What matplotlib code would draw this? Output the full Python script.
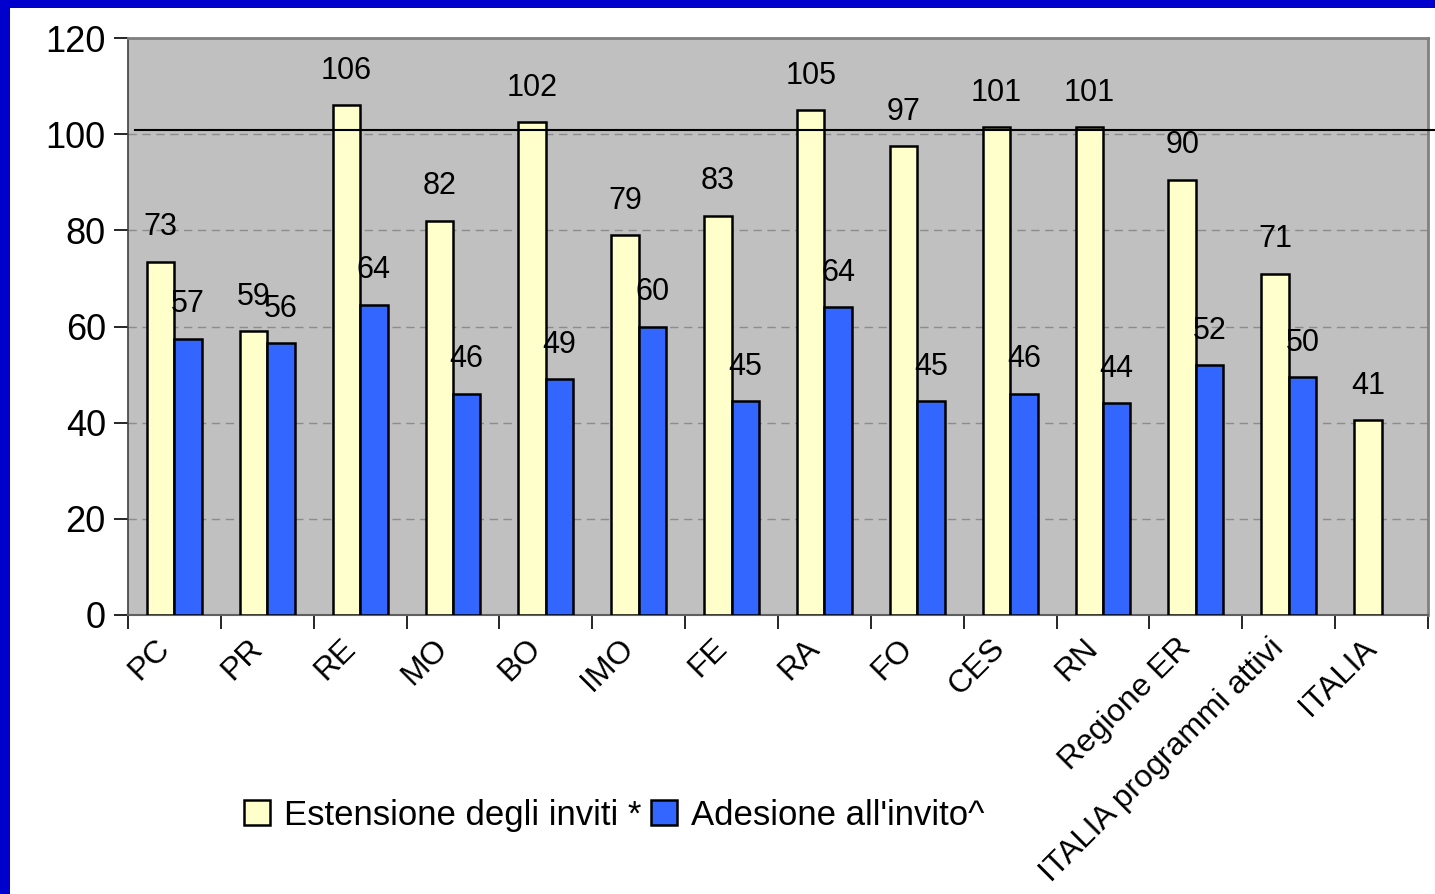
import numpy as np
import matplotlib
matplotlib.use("Agg")
import matplotlib.pyplot as plt
import matplotlib.transforms as mtransforms
from matplotlib.patches import Rectangle

plt.rcParams['font.family'] = ['Liberation Sans', 'DejaVu Sans']

# Data
categories = ["PC", "PR", "RE", "MO", "BO", "IMO", "FE", "RA", "FO", "CES", "RN",
              "Regione ER", "ITALIA programmi attivi", "ITALIA"]
estensione = [73.5, 59, 106, 82, 102.5, 79, 83, 105, 97.5, 101.5, 101.5, 90.5, 71, 40.5]
estensione_labels = ["73", "59", "106", "82", "102", "79", "83", "105", "97", "101", "101",
                     "90", "71", "41"]
adesione = [57.5, 56.5, 64.5, 46, 49, 60, 44.5, 64, 44.5, 46, 44, 52, 49.5, None]
adesione_labels = ["57", "56", "64", "46", "49", "60", "45", "64", "45", "46", "44",
                   "52", "50", None]
reference_level = 100.8

fig = plt.figure(figsize=(14.35, 8.94), dpi=100)
fig.patch.set_facecolor("white")

# blue frame on the left and top edges
fig.patches.append(Rectangle((0, 0), 10 / 1435, 1, transform=fig.transFigure,
                             facecolor="#0000CC", edgecolor="none", zorder=0))
fig.patches.append(Rectangle((0, 1 - 8 / 894), 1, 8 / 894, transform=fig.transFigure,
                             facecolor="#0000CC", edgecolor="none", zorder=0))

ax = fig.add_axes([128 / 1435, 1 - 615 / 894, 1300 / 1435, 577 / 894])
ax.set_facecolor("#C0C0C0")

x = np.arange(len(categories))
w = 0.295

ax.bar(x - w / 2, estensione, w, color="#FFFFCC", edgecolor="black", linewidth=1.8,
       label="Estensione degli inviti *", zorder=3)
blue_x = [xi + w / 2 for xi, v in zip(x, adesione) if v is not None]
blue_v = [v for v in adesione if v is not None]
ax.bar(blue_x, blue_v, w, color="#3366FF", edgecolor="black", linewidth=1.8,
       label="Adesione all'invito^", zorder=3)

# value labels
for xi, v, lab in zip(x, estensione, estensione_labels):
    ax.annotate(lab, (xi - w / 2, v), xytext=(0, 14), textcoords="offset points",
                ha="center", va="bottom", fontsize=22, zorder=5)
for xi, v, lab in zip(x, adesione, adesione_labels):
    if v is None:
        continue
    ax.annotate(lab, (xi + w / 2, v), xytext=(0, 14), textcoords="offset points",
                ha="center", va="bottom", fontsize=22, zorder=5)

# reference line
trans = ax.get_yaxis_transform()
ax.plot([0.005, 1.01], [reference_level, reference_level], transform=trans,
        color="black", linewidth=1.5, clip_on=False, zorder=4)

ax.set_xlim(-0.5, len(categories) - 0.5)
ax.set_ylim(0, 120)
ax.set_yticks(range(0, 121, 20))
ax.yaxis.grid(True, color="#8C8C8C", linestyle=(0, (6, 4)), linewidth=1.0, zorder=1)
ax.tick_params(axis="y", labelsize=26, length=10, width=1.2, direction="out", pad=6)

ax.set_xticks(x)
ax.set_xticklabels(categories, fontsize=23, rotation=45, ha="right", rotation_mode="anchor")
ax.set_xticks(np.arange(-0.5, len(categories), 1), minor=True)
ax.tick_params(axis="x", which="major", length=0, pad=13)
ax.tick_params(axis="x", which="minor", length=10, width=1.2, direction="out")
offset = mtransforms.ScaledTranslation(-0.2, 0, fig.dpi_scale_trans)
for lbl in ax.get_xticklabels():
    lbl.set_transform(lbl.get_transform() + offset)

for side in ["top", "right"]:
    ax.spines[side].set_color("#808080")
    ax.spines[side].set_linewidth(2)
ax.spines["left"].set_color("#404040")
ax.spines["bottom"].set_color("#606060")
ax.spines["left"].set_linewidth(1.2)
ax.spines["bottom"].set_linewidth(1.5)

fig.legend(loc="center", bbox_to_anchor=(0.428, 0.088), ncol=2, frameon=False,
           fontsize=25, handlelength=0.75, handleheight=0.75, handletextpad=0.4,
           columnspacing=0.3, borderaxespad=0)

fig.savefig("out.png", dpi=100)
